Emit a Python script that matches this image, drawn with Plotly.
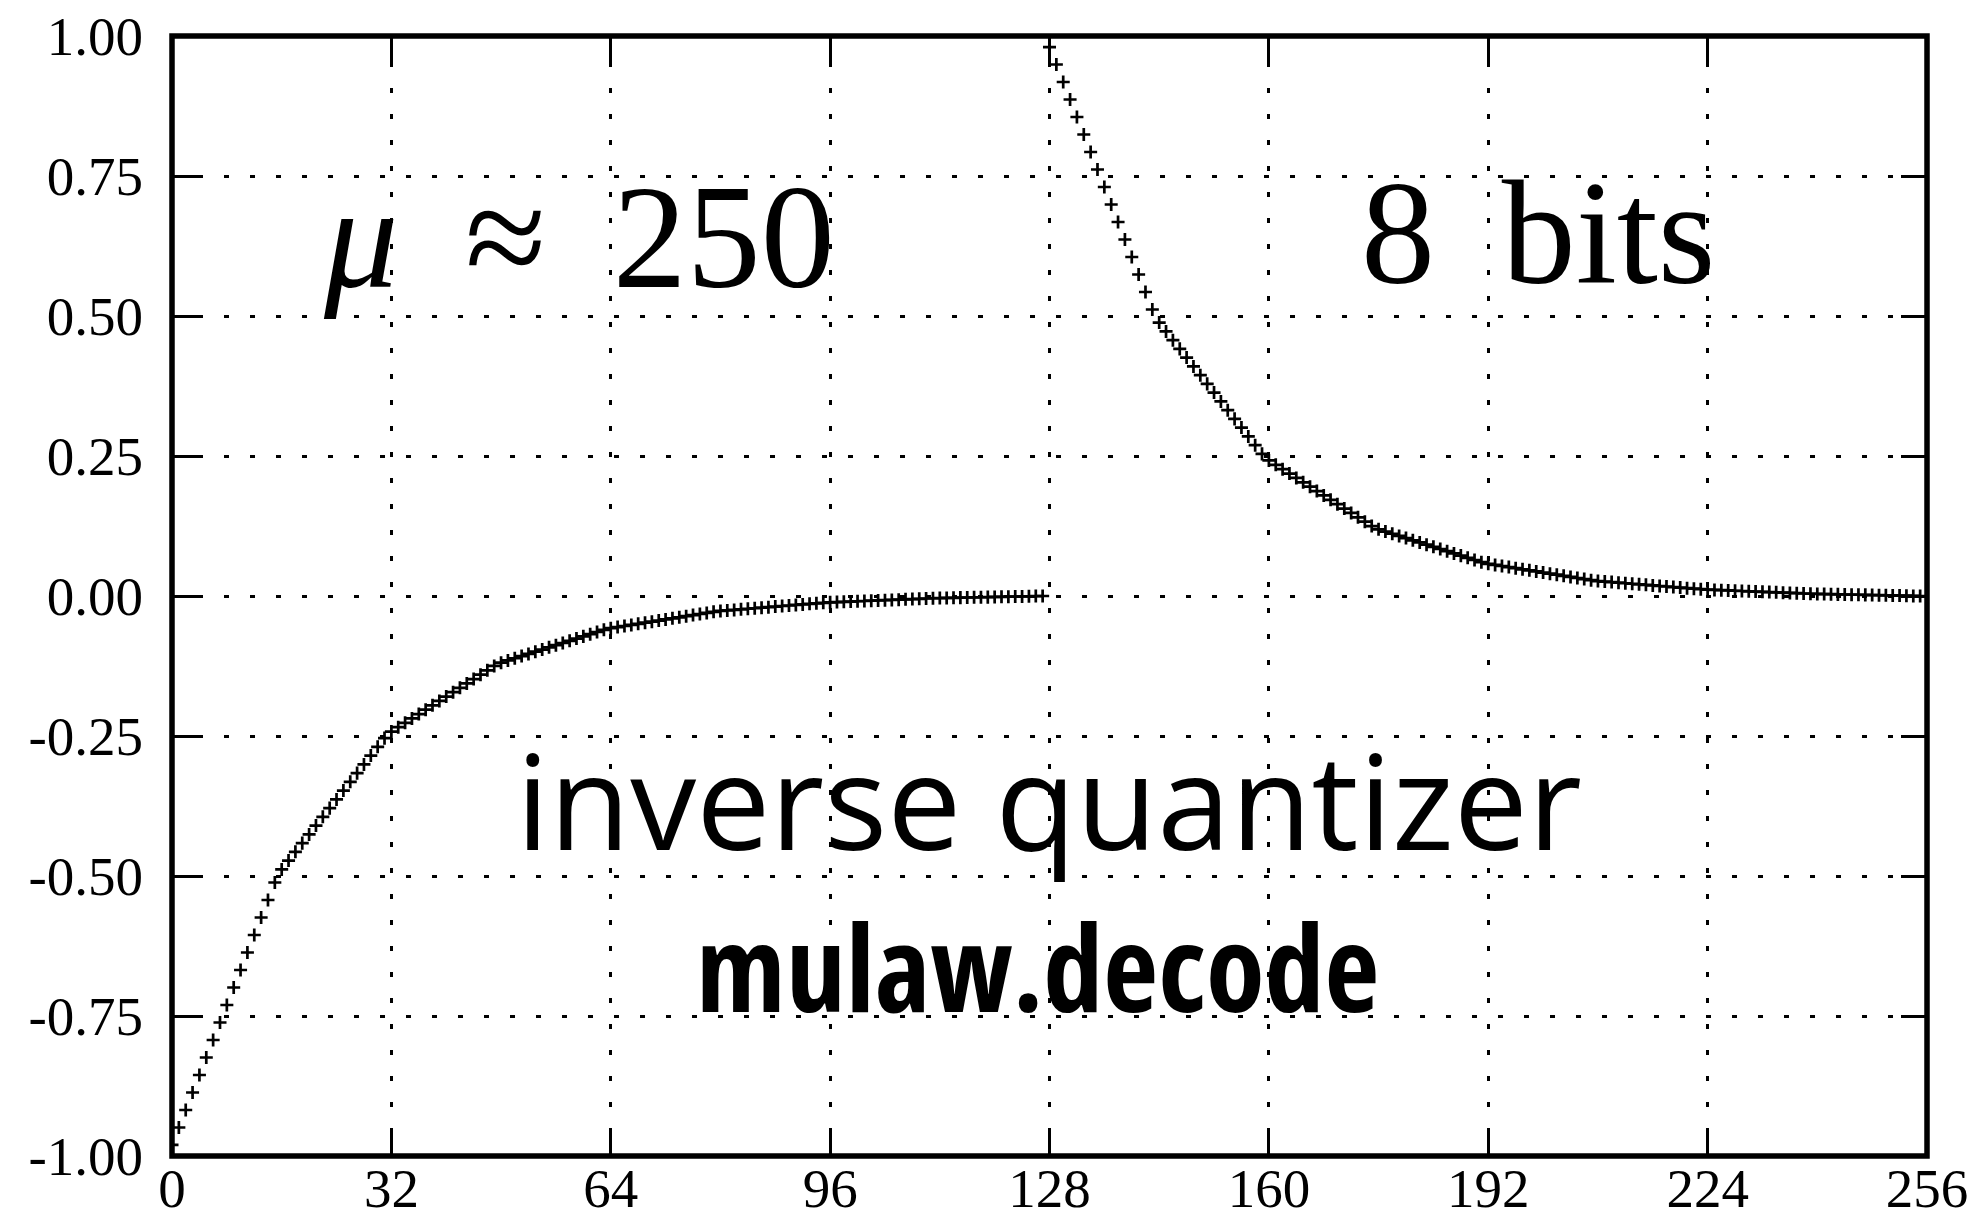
import plotly.graph_objects as go

# ---- data (mu-law decode, 8-bit codes) ----
codes_negative = list(range(0, 128))
codes_positive = list(range(128, 256))

decoded_negative = [
    -0.9803, -0.9491, -0.9179, -0.8866, -0.8554, -0.8241, -0.7929, -0.7616,
    -0.7304, -0.6991, -0.6679, -0.6366, -0.6054, -0.5741, -0.5429, -0.5116,
    -0.4882, -0.4725, -0.4569, -0.4413, -0.4257, -0.4100, -0.3944, -0.3788,
    -0.3632, -0.3475, -0.3319, -0.3163, -0.3007, -0.2850, -0.2694, -0.2538,
    -0.2421, -0.2343, -0.2264, -0.2186, -0.2108, -0.2030, -0.1952, -0.1874,
    -0.1796, -0.1718, -0.1639, -0.1561, -0.1483, -0.1405, -0.1327, -0.1249,
    -0.1190, -0.1151, -0.1112, -0.1073, -0.1034, -0.0995, -0.0956, -0.0917,
    -0.0878, -0.0839, -0.0800, -0.0760, -0.0721, -0.0682, -0.0643, -0.0604,
    -0.0575, -0.0555, -0.0536, -0.0516, -0.0497, -0.0477, -0.0458, -0.0438,
    -0.0419, -0.0399, -0.0380, -0.0360, -0.0341, -0.0321, -0.0302, -0.0282,
    -0.0267, -0.0258, -0.0248, -0.0238, -0.0228, -0.0219, -0.0209, -0.0199,
    -0.0189, -0.0179, -0.0170, -0.0160, -0.0150, -0.0140, -0.0131, -0.0121,
    -0.0114, -0.0109, -0.0104, -0.0099, -0.0094, -0.0089, -0.0084, -0.0079,
    -0.0074, -0.0070, -0.0065, -0.0060, -0.0055, -0.0050, -0.0045, -0.0040,
    -0.0037, -0.0034, -0.0032, -0.0029, -0.0027, -0.0024, -0.0022, -0.0020,
    -0.0017, -0.0015, -0.0012, -0.0010, -0.0007, -0.0005, -0.0002, 0.0000,
]

decoded_positive = [
    0.9803, 0.9491, 0.9179, 0.8866, 0.8554, 0.8241, 0.7929, 0.7616,
    0.7304, 0.6991, 0.6679, 0.6366, 0.6054, 0.5741, 0.5429, 0.5116,
    0.4882, 0.4725, 0.4569, 0.4413, 0.4257, 0.4100, 0.3944, 0.3788,
    0.3632, 0.3475, 0.3319, 0.3163, 0.3007, 0.2850, 0.2694, 0.2538,
    0.2421, 0.2343, 0.2264, 0.2186, 0.2108, 0.2030, 0.1952, 0.1874,
    0.1796, 0.1718, 0.1639, 0.1561, 0.1483, 0.1405, 0.1327, 0.1249,
    0.1190, 0.1151, 0.1112, 0.1073, 0.1034, 0.0995, 0.0956, 0.0917,
    0.0878, 0.0839, 0.0800, 0.0760, 0.0721, 0.0682, 0.0643, 0.0604,
    0.0575, 0.0555, 0.0536, 0.0516, 0.0497, 0.0477, 0.0458, 0.0438,
    0.0419, 0.0399, 0.0380, 0.0360, 0.0341, 0.0321, 0.0302, 0.0282,
    0.0267, 0.0258, 0.0248, 0.0238, 0.0228, 0.0219, 0.0209, 0.0199,
    0.0189, 0.0179, 0.0170, 0.0160, 0.0150, 0.0140, 0.0131, 0.0121,
    0.0114, 0.0109, 0.0104, 0.0099, 0.0094, 0.0089, 0.0084, 0.0079,
    0.0074, 0.0070, 0.0065, 0.0060, 0.0055, 0.0050, 0.0045, 0.0040,
    0.0037, 0.0034, 0.0032, 0.0029, 0.0027, 0.0024, 0.0022, 0.0020,
    0.0017, 0.0015, 0.0012, 0.0010, 0.0007, 0.0005, 0.0002, 0.0000,
]

x_tick_values = [0, 32, 64, 96, 128, 160, 192, 224, 256]
x_tick_labels = ["0", "32", "64", "96", "128", "160", "192", "224", "256"]
y_tick_values = [-1.0, -0.75, -0.5, -0.25, 0.0, 0.25, 0.5, 0.75, 1.0]
y_tick_labels = ["-1.00", "-0.75", "-0.50", "-0.25", "0.00", "0.25", "0.50", "0.75", "1.00"]

# ---- figure ----
marker_style = dict(symbol="cross-thin", size=9.3, color="black",
                    line=dict(color="black", width=2.7))

fig = go.Figure()
fig.add_trace(go.Scatter(x=codes_negative, y=decoded_negative, mode="markers",
                         marker=marker_style, showlegend=False))
fig.add_trace(go.Scatter(x=codes_positive, y=decoded_positive, mode="markers",
                         marker=marker_style, showlegend=False))

tick_font = dict(family="Liberation Serif, serif", size=55, color="black")
axis_common = dict(
    showline=False, zeroline=False, automargin=False,
    showgrid=True, gridcolor="black", gridwidth=2.8, griddash="5px,21px",
    ticks="inside", ticklen=26, tickwidth=3, tickcolor="black",
    mirror="ticks", tickfont=tick_font,
)

fig.update_xaxes(range=[0, 256], tickmode="array", tickvals=x_tick_values,
                 ticktext=x_tick_labels, ticklabelstandoff=-5, **axis_common)
fig.update_yaxes(range=[-1, 1], tickmode="array", tickvals=y_tick_values,
                 ticktext=y_tick_labels, ticklabelstandoff=28, **axis_common)

fig.add_shape(type="rect", xref="paper", yref="paper", x0=0, y0=0, x1=1, y1=1,
              line=dict(color="black", width=5.5), layer="above")

serif_big = dict(family="Liberation Serif, serif", size=148, color="black")
fig.add_annotation(x=59.3, y=0.641, xref="x", yref="y",
                   text="<i>μ</i> \u2009≈ \u2009250",
                   showarrow=False, font=serif_big, xanchor="center", yanchor="middle")
fig.add_annotation(x=199.3, y=0.648, xref="x", yref="y", text="8 \u2009bits",
                   showarrow=False, font=serif_big, xanchor="center", yanchor="middle")
fig.add_annotation(x=127.9, y=-0.3625, xref="x", yref="y", text="inverse quantizer",
                   showarrow=False,
                   font=dict(family="Open Sans, sans-serif", size=132, color="black"),
                   xanchor="center", yanchor="middle")
fig.add_annotation(x=126.3, y=-0.659, xref="x", yref="y",
                   text='<span style="font-stretch:condensed">mulaw.decode</span>',
                   showarrow=False,
                   font=dict(family="Open Sans, DejaVu Sans Condensed, sans-serif",
                             size=120, color="black", weight=700),
                   xanchor="center", yanchor="middle")

fig.update_layout(
    width=1981, height=1224, autosize=False,
    margin=dict(l=172, r=54, t=36, b=68, pad=0),
    paper_bgcolor="white", plot_bgcolor="white",
)

fig.write_html("out.html")
